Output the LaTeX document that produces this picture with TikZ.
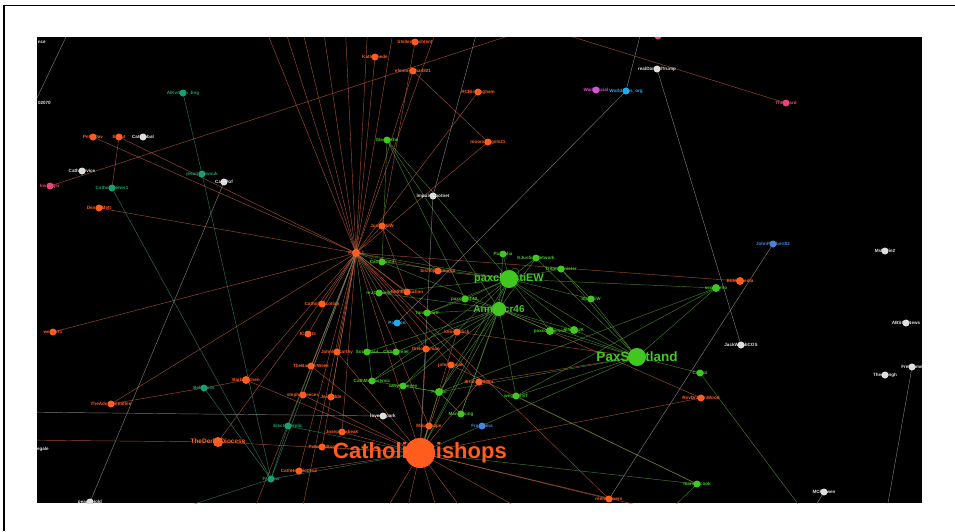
\documentclass[tikz,border=0pt]{standalone}
\usepackage{fontspec}
\setmainfont{Liberation Sans}
\definecolor{co}{RGB}{255,92,30}
\definecolor{cg}{RGB}{64,200,32}
\definecolor{ct}{RGB}{24,160,112}
\definecolor{cw}{RGB}{222,222,222}
\definecolor{cp}{RGB}{228,70,122}
\definecolor{cm}{RGB}{214,84,214}
\definecolor{cc}{RGB}{30,172,240}
\definecolor{cb}{RGB}{72,132,222}
\definecolor{eoc}{RGB}{205,100,70}
\definecolor{egc}{RGB}{84,150,56}
\definecolor{ewc}{RGB}{150,150,150}
\definecolor{etc}{RGB}{52,140,110}
\begin{document}
\begin{tikzpicture}[x=1pt,y=-1pt,
  eo/.style={draw=eoc,line width=0.45pt,draw opacity=0.75},
  eg/.style={draw=egc,line width=0.45pt,draw opacity=0.8},
  ew/.style={draw=ewc,line width=0.45pt,draw opacity=0.8},
  et/.style={draw=etc,line width=0.45pt,draw opacity=0.8},
  lbl/.style={inner sep=0pt},
  dot/.style={circle,inner sep=0pt}]
\def\nodelist{hub/356/253/co/4/4.6/PaulSJ,
JEW/382/226/co/3.5/4.6/JusticeEW,
bishop/438/271/co/3.5/4.6/bishopofchurch,
o4/407/292/co/3.5/4.6/CathEducation,
CSc/322/304/co/3.5/4.6/CatholicScotlan,
ICS/308/334/co/3.5/4.6/ICSarts,
JMc/337/352/co/3.5/4.6/JohnMcCarthy,
o8/426/349/co/3.5/4.6/thelordsman,
o9/451/365/co/3.5/4.6/johnsonijak,
TheBa/311/366/co/3.5/4.6/TheBannerWeek,
steph/303/395/co/3.5/4.6/stephenreeces,
o12/331/397/co/3.5/4.6/JessFilde,
o13/429/426/co/3.5/4.6/Mikaelhope,
o14/342/432/co/3.5/4.6/JosephHabeak,
o15/322/447/co/3.5/4.6/PeterMcBoo,
CHex/299/471/co/3.5/4.6/CathHexDiocese,
Barb/246/380/co/4/4.6/BarbKitchen,
TheAdC/111/404/co/3.5/4.6/TheAdvCommittee,
Derby/218/442/co/5/6.5/TheDerbyDiocese,
Ibra/479/382/co/3.5/4.6/IbrahimIdeim,
reem/609/499/co/3.5/4.6/reemhowers,
RevDr/701/398/co/3.5/4.6/RevDrJohnWood,
BCMS/740/281/co/4/4.6/BCMSmedia,
Der/99/208/co/3.5/4.6/DenHoMett,
we/53/332/co/3.5/4.6/weinert1,
PeterD/93/137/co/3.5/4.6/PeterDav,
Beaut/119/137/co/3.5/4.6/Beaut,
Stellen/415/42/co/3.5/4.6/StellenBushtent,
KathA/375/57/co/3.5/4.6/KathAmede,
efemo/413/71/co/3.5/4.6/efemorasha4821,
RCB/478/92/co/3.5/4.6/RCBirmingham,
moond/488/142/co/3.5/4.6/moondangels21,
o34/457/332/co/3.5/4.6/kensetliock,
g1/382/262/cg/3.5/4.6/CathConcil,
g2/379/293/cg/3.5/4.6/nrJCatholic,
g3/427/313/cg/3.5/4.6/TaraSwartl,
g4/367/352/cg/3.5/4.6/SoulsPaul,
g5/396/352/cg/3.5/4.6/ChSeramiel,
g6/372/381/cg/3.5/4.6/CathMediaservic,
g7/403/386/cg/3.5/4.6/sanyGreeney,
g8/439/392/cg/4/4.6/PaxPoi,
g9/461/414/cg/3.5/4.6/ManPrising,
g10/516/396/cg/3.5/4.6/wegoforST,
g11/503/254/cg/3.5/4.6/PaxItalia,
g12/536/258/cg/3.5/4.6/KJusticeNetwork,
g13/561/269/cg/3.5/4.6/TribesMinister,
g14/465/299/cg/3.5/4.6/paxchristiNL,
g15/591/299/cg/3.5/4.6/SpiritEW,
g16/550/331/cg/4/4.6/paxcoispersist,
g17/574/330/cg/4/4.6/GhostUK,
g18/700/373/cg/3.5/4.6/CityNo,
g19/716/288/cg/4/4.6/scottPeho,
g20/697/484/cg/3.5/4.6/marsdncook,
g21/387/140/cg/3.5/4.6/GlasCathe,
t1/183/93/ct/3.5/4.6/AlKvdash\_Eng,
t2/202/174/ct/3.5/4.6/jesuitsnewsuk,
t3/112/188/ct/3.5/4.6/CatholicNews1,
t4/204/388/ct/3.5/4.6/BellCross,
t5/288/426/ct/3.5/4.6/ElectorsHolic,
t6/271/479/ct/3.5/4.6/FrJRow,
w1/143/137/cw/3.5/4.6/CatGlobal,
w2/82/171/cw/3.5/4.6/CathService,
w3/224/182/cw/3.5/4.6/CathPof,
w4/433/196/cw/3.5/4.6/lmpulsetbotnet,
w5/383/416/cw/3.5/4.6/lovedicpark,
Trump/657/69/cw/3.5/4.6/realDonaldTrump,
JackW/741/345/cw/3.5/4.6/JackWBabCOS,
Ms/885/251/cw/3.5/4.6/MsBarie2,
ABS/906/323/cw/3.5/4.6/ABSCBNews,
Fret/912/367/cw/3.5/4.6/FretHome,
Theo/885/375/cw/3.5/4.6/TheoBingh,
MCB/824/492/cw/3.5/4.6/MCBOwen,
w13/90/502/cw/3.5/4.6/pearlbHold,
p1/50/186/cp/3.5/4.6/InvCatjer,
p2/658/36/cp/3.5/4.6/PopeGl,
p3/786/103/cp/3.5/4.6/TheBeard,
m1/596/90/cm/3.5/4.6/WarkSocial,
c1/626/91/cc/3.5/4.6/WorldJens\_org,
c2/397/323/cc/3.5/4.6/PaxCon,
b1/773/244/cb/3.5/4.6/JohnPRobert02,
b2/482/426/cb/3.5/4.6/FranDima,
pEW/509/279/cg/9/11/paxchristiEW,
Annex/499/309/cg/7/10/Annexcr46,
PaxS/637/357/cg/9/13.5/PaxScotland,
CB/420/453/co/15/22/CatholicBishops}
\useasboundingbox (0,0) rectangle (955,531);
\fill[white] (0,0) rectangle (955,531);
\draw[line width=1.5pt] (4.2,531) -- (4.2,5.5) -- (955,5.5);
\fill[black] (37,37) rectangle (922,503);
\begin{scope}
\clip (37,37) rectangle (922,503);
\foreach \n/\x/\y/\c/\r/\f/\t in \nodelist {\coordinate (\n) at (\x,\y);}
\foreach \n/\x/\y in {T1/262/20,T2/300/20,T3/322/20,T4/345/20,T5/368/20,T6/395/20,T7/440/20,T8/282/20,
  TP/557/20,TQ/518/20,TR/644/20,TS/480/20,TU/74/20,TV/28/117,L1/20/440,L2/20/412,
  B1/145/520,B2/885/520,B3/807/520,B4/810/520,B5/250/520,B6/300/520,B7/380/520,B8/405/520,
  B9/440/520,B10/470/520,B11/540/520,B12/700/520,B13/660/520}
  {\coordinate (\n) at (\x,\y);}
% orange edges
\foreach \a/\b in {hub/T1,hub/T2,hub/T3,hub/T4,hub/T5,hub/T6,hub/T7,hub/T8,
  hub/KathA,hub/efemo,hub/RCB,hub/moond,hub/JEW,hub/PeterD,hub/Beaut,hub/Der,hub/we,hub/TheAdC,
  hub/CSc,hub/ICS,hub/JMc,hub/TheBa,hub/steph,hub/o12,hub/o14,hub/o15,hub/CHex,hub/Derby,hub/CB,
  hub/bishop,hub/o4,hub/o8,hub/o9,hub/o13,hub/o34,hub/Ibra,hub/BCMS,hub/reem,hub/Barb,hub/B5,hub/B6,
  Stellen/JEW,efemo/moond,Beaut/t3,
  CB/Derby,Derby/L1,CB/Barb,CB/o15,CB/o14,CB/o13,CB/Ibra,CB/reem,CB/RevDr,CB/B7,CB/B8,CB/B9,CB/B10,
  CB/B11,CB/B12,CB/o9,CB/o8,CB/CHex,CB/TheBa,CB/steph,CB/JMc,CB/o34,
  TheAdC/t4,t4/Barb,Annex/RevDr,p1/TP,p3/TQ,JEW/o4,JEW/bishop,bishop/pEW,o34/PaxS,Ibra/PaxS,o9/g20}
  {\draw[eo] (\a) -- (\b);}
% green edges
\foreach \a/\b in {pEW/g11,pEW/g12,pEW/g13,pEW/g14,pEW/g15,pEW/Annex,pEW/g16,pEW/g17,pEW/PaxS,pEW/g1,
  pEW/g2,pEW/g3,pEW/g6,pEW/g7,pEW/g8,pEW/g9,pEW/g21,pEW/g19,pEW/hub,pEW/CB,
  Annex/g14,Annex/g3,Annex/g4,Annex/g5,Annex/g6,Annex/g7,Annex/g8,Annex/g9,Annex/g10,Annex/g16,
  Annex/g17,Annex/PaxS,Annex/CB,Annex/g21,Annex/g1,Annex/g2,Annex/g12,Annex/g11,
  PaxS/g16,PaxS/g17,PaxS/g18,PaxS/g13,PaxS/g15,PaxS/g10,PaxS/g8,PaxS/CB,PaxS/g12,PaxS/g19,
  g18/B4,g19/g10,g19/g8,g21/g1,g21/g14,g8/g6,g8/g7,g8/g9,g8/CB,g10/g20,g20/CB,g20/B13,g4/g5,
  g1/hub,g2/hub,g3/g14,g6/hub,g15/g13}
  {\draw[eg] (\a) -- (\b);}
\draw[eg] (515,272) circle (4);
% grey edges
\foreach \a/\b in {w4/TS,w4/CB,Trump/JackW,Fret/B2,MCB/B3,L2/w5,w3/w13,c1/TR,b1/reem,TU/TV,c1/c2}
  {\draw[ew] (\a) -- (\b);}
% teal edges
\foreach \a/\b in {t1/t2,t2/t6,t3/t6,t4/t6,t6/CB,t6/hub,t6/B1,t5/CB,t5/hub,t5/t6}
  {\draw[et] (\a) -- (\b);}
% labels of nodes outside the view
\node[lbl,anchor=east,text=cw,font=\bfseries\fontsize{4.6}{5}\selectfont] (x1) at (46,42) {nce};
\node[lbl,anchor=east,text=cw,font=\bfseries\fontsize{4.6}{5}\selectfont] (x2) at (51,103) {02070};
\node[lbl,anchor=east,text=cw,font=\bfseries\fontsize{4.6}{5}\selectfont] (x3) at (49,449) {egale};
% labels
\foreach \n/\x/\y/\c/\r/\f/\t in \nodelist
  {\node[lbl,text=\c,font=\bfseries\fontsize{\f}{\f}\selectfont] (\n-l) at (\n) {\t};}
% dots
\foreach \n/\x/\y/\c/\r/\f/\t in \nodelist
  {\node[dot,fill=\c,minimum size=2*\r] (\n-d) at (\n) {};}
\end{scope}
\end{tikzpicture}
\end{document}
